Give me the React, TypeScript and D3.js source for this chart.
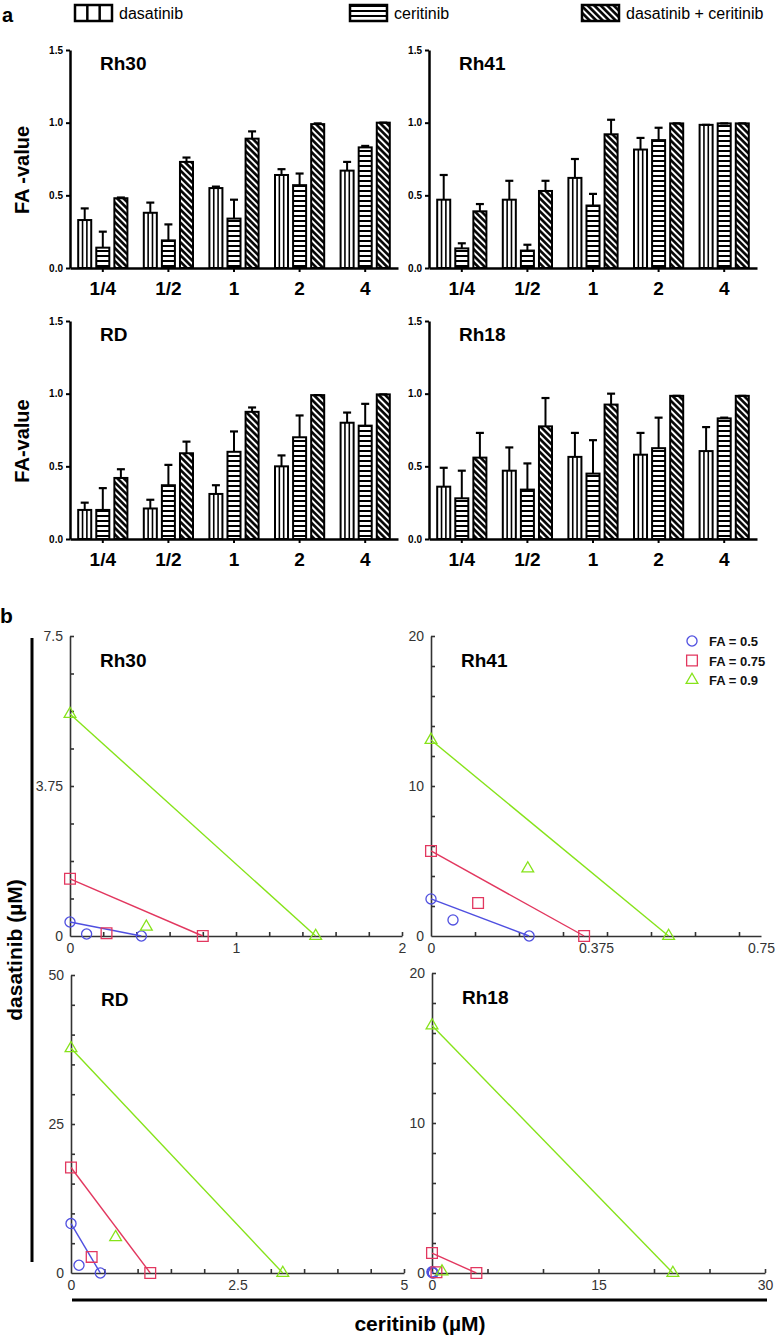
import { useEffect, useRef } from "react";
import * as d3 from "d3";

const FONT = "'Liberation Sans', Arial, Helvetica, sans-serif";

// ---- panel a: FA values (mean) and SD per dose ----
const doses = ["1/4", "1/2", "1", "2", "4"];
const treatments = ["dasatinib", "ceritinib", "dasatinib + ceritinib"];

const rh30Dasatinib = [0.33, 0.38, 0.55, 0.64, 0.67];
const rh30DasatinibSd = [0.08, 0.07, 0.01, 0.04, 0.06];
const rh30Ceritinib = [0.14, 0.19, 0.34, 0.57, 0.83];
const rh30CeritinibSd = [0.11, 0.11, 0.13, 0.08, 0.01];
const rh30Combo = [0.48, 0.73, 0.89, 0.99, 1.0];
const rh30ComboSd = [0.005, 0.03, 0.05, 0.005, 0.0];

const rh41Dasatinib = [0.47, 0.47, 0.62, 0.815, 0.985];
const rh41DasatinibSd = [0.17, 0.13, 0.13, 0.08, 0.0];
const rh41Ceritinib = [0.135, 0.12, 0.43, 0.88, 0.995];
const rh41CeritinibSd = [0.035, 0.04, 0.08, 0.085, 0.0];
const rh41Combo = [0.39, 0.53, 0.92, 0.995, 0.995];
const rh41ComboSd = [0.05, 0.07, 0.1, 0.0, 0.0];

const rdDasatinib = [0.2, 0.21, 0.31, 0.5, 0.8];
const rdDasatinibSd = [0.05, 0.06, 0.06, 0.075, 0.07];
const rdCeritinib = [0.2, 0.37, 0.6, 0.7, 0.78];
const rdCeritinibSd = [0.15, 0.14, 0.14, 0.15, 0.15];
const rdCombo = [0.42, 0.59, 0.875, 0.99, 0.995];
const rdComboSd = [0.06, 0.08, 0.03, 0.0, 0.0];

const rh18Dasatinib = [0.36, 0.47, 0.565, 0.58, 0.605];
const rh18DasatinibSd = [0.13, 0.16, 0.165, 0.15, 0.165];
const rh18Ceritinib = [0.28, 0.34, 0.45, 0.625, 0.83];
const rh18CeritinibSd = [0.19, 0.18, 0.23, 0.21, 0.005];
const rh18Combo = [0.56, 0.775, 0.925, 0.985, 0.985];
const rh18ComboSd = [0.17, 0.195, 0.075, 0.0, 0.0];

const faTicks = [0, 0.5, 1.0, 1.5];

// ---- panel b: isobolograms ----
const faLevels = ["FA = 0.5", "FA = 0.75", "FA = 0.9"];
const faColors = ["#4f4fe0", "#e2375f", "#86e31a"];

// dose of each drug alone (line ends) and the combination point [ceritinib, dasatinib]
const rh30IsoCeritinib = [0.43, 0.8, 1.48];
const rh30IsoDasatinib = [0.35, 1.43, 5.55];
const rh30ComboPts = [[0.1, 0.05], [0.22, 0.07], [0.46, 0.23]];

const rh41IsoCeritinib = [0.223, 0.348, 0.54];
const rh41IsoDasatinib = [2.47, 5.67, 13.07];
const rh41ComboPts = [[0.05, 1.07], [0.107, 2.2], [0.22, 4.5]];

const rdIsoCeritinib = [0.44, 1.19, 3.18];
const rdIsoDasatinib = [8.3, 17.7, 37.7];
const rdComboPts = [[0.12, 1.3], [0.31, 2.7], [0.67, 6.0]];

const rh18IsoCeritinib = [0.12, 4.0, 21.7];
const rh18IsoDasatinib = [0.08, 1.33, 16.5];
const rh18ComboPts = [[0.03, 0.02], [0.4, 0.05], [0.9, 0.1]];

const rh30XLabels = [0, 1, 2];
const rh30YLabels = [0, 3.75, 7.5];
const rh41XLabels = [0, 0.375, 0.75];
const rh41YLabels = [0, 10, 20];
const rdXLabels = [0, 2.5, 5];
const rdYLabels = [0, 25, 50];
const rh18XLabels = [0, 15, 30];
const rh18YLabels = [0, 10, 20];

type Sel = d3.Selection<SVGSVGElement, unknown, null, undefined>;

const drawBars = (svg: Sel, p: any) => {
  const x = d3.scaleBand<string>().domain(doses).range([p.left, p.right]).paddingInner(0.25).paddingOuter(0.125);
  const xi = d3.scaleBand<string>().domain(treatments).range([0, x.bandwidth()]).paddingInner(0.28);
  const y = d3.scaleLinear().domain([0, 1.5]).range([p.bottom, p.top]);
  const g = svg.append("g");
  const bw = xi.bandwidth();

  treatments.forEach((t, j) => {
    const means: number[] = p.means[j];
    const sds: number[] = p.sds[j];
    const gg = g.append("g");
    const bx = (i: number) => (x(doses[i]) as number) + (xi(t) as number);

    gg.selectAll("rect").data(means).join("rect")
      .attr("x", (d, i) => bx(i))
      .attr("y", (d) => y(d))
      .attr("width", bw)
      .attr("height", (d) => y(0) - y(d))
      .attr("fill", j === 0 ? "#fff" : j === 1 ? "url(#hstripe)" : "url(#dstripe)")
      .attr("stroke", "#000")
      .attr("stroke-width", 2);

    if (j === 0) {
      [1, 2].forEach((k) => {
        gg.selectAll(`line.v${k}`).data(means).join("line")
          .attr("class", `v${k}`)
          .attr("x1", (d, i) => bx(i) + (bw * k) / 3)
          .attr("x2", (d, i) => bx(i) + (bw * k) / 3)
          .attr("y1", (d) => y(d))
          .attr("y2", y(0))
          .attr("stroke", "#000")
          .attr("stroke-width", 1.6);
      });
    }

    // error bars, upward only
    gg.selectAll("line.err").data(means).join("line")
      .attr("class", "err")
      .attr("x1", (d, i) => bx(i) + bw / 2)
      .attr("x2", (d, i) => bx(i) + bw / 2)
      .attr("y1", (d) => y(d))
      .attr("y2", (d, i) => y(d + sds[i]))
      .attr("stroke", "#000")
      .attr("stroke-width", 2);
    gg.selectAll("line.cap").data(means).join("line")
      .attr("class", "cap")
      .attr("x1", (d, i) => bx(i) + bw / 2 - 4)
      .attr("x2", (d, i) => bx(i) + bw / 2 + 4)
      .attr("y1", (d, i) => y(d + sds[i]))
      .attr("y2", (d, i) => y(d + sds[i]))
      .attr("stroke", "#000")
      .attr("stroke-width", 2.2);
  });

  const ya = g.append("g")
    .attr("transform", `translate(${p.left},0)`)
    .call(d3.axisLeft(y).tickValues(faTicks).tickFormat(d3.format(".1f")).tickSize(4).tickSizeOuter(0).tickPadding(3));
  ya.select(".domain").attr("stroke-width", 2.5);
  ya.selectAll(".tick line").attr("stroke-width", 2);
  ya.selectAll("text").attr("font-family", FONT).attr("font-weight", "bold").attr("font-size", 10);

  const xa = g.append("g")
    .attr("transform", `translate(0,${p.bottom})`)
    .call(d3.axisBottom(x).tickSize(4).tickSizeOuter(0).tickPadding(10));
  xa.select(".domain").attr("stroke-width", 2.5);
  xa.selectAll(".tick line").attr("stroke-width", 2);
  xa.selectAll("text").attr("font-family", FONT).attr("font-weight", "bold").attr("font-size", 19);

  g.append("text").attr("x", p.left + 30).attr("y", p.top + 20)
    .attr("font-family", FONT).attr("font-weight", "bold").attr("font-size", 19).text(p.name);

  if (p.ylabel) {
    const cy = (p.top + p.bottom) / 2 + 11;
    g.append("text").attr("transform", `translate(29,${cy}) rotate(-90)`)
      .attr("text-anchor", "middle").attr("font-family", FONT).attr("font-weight", "bold").attr("font-size", 20)
      .text(p.ylabel);
  }
};

const drawIso = (svg: Sel, p: any) => {
  const x = d3.scaleLinear().domain([0, p.xMax]).range([p.left, p.right]);
  const y = d3.scaleLinear().domain([0, p.yMax]).range([p.bottom, p.top]);
  const g = svg.append("g");
  const axisColor = "#333";

  const ya = g.append("g").attr("transform", `translate(${p.left},0)`)
    .call(d3.axisLeft(y).tickValues(p.yMinor).tickSize(-4).tickSizeOuter(0).tickFormat(() => ""));
  ya.selectAll("path,line").attr("stroke", axisColor).attr("stroke-width", 1.6);
  const yl = g.append("g").attr("transform", `translate(${p.left},0)`)
    .call(d3.axisLeft(y).tickValues(p.yLabels).tickSize(0).tickPadding(7).tickFormat((d: any) => String(d)));
  yl.select(".domain").remove();
  yl.selectAll("text").attr("font-family", FONT).attr("font-size", 14).attr("fill", "#333");

  const xa = g.append("g").attr("transform", `translate(0,${p.bottom})`)
    .call(d3.axisBottom(x).tickValues(p.xMinor).tickSize(-4).tickSizeOuter(0).tickFormat(() => ""));
  xa.selectAll("path,line").attr("stroke", axisColor).attr("stroke-width", 1.6);
  const xl = g.append("g").attr("transform", `translate(0,${p.bottom})`)
    .call(d3.axisBottom(x).tickValues(p.xLabels).tickSize(0).tickPadding(7).tickFormat((d: any) => String(d)));
  xl.select(".domain").remove();
  xl.selectAll("text").attr("font-family", FONT).attr("font-size", 14).attr("fill", "#333");

  g.append("text").attr("x", p.left + 30).attr("y", p.top + 31)
    .attr("font-family", FONT).attr("font-weight", "bold").attr("font-size", 19).text(p.name);

  const line = d3.line<number[]>().x((d) => x(d[0])).y((d) => y(d[1]));
  const symbols = [d3.symbolCircle, d3.symbolSquare, d3.symbolTriangle];
  const sizes = [80, 115, 60];

  faLevels.forEach((fa, k) => {
    const c = faColors[k];
    const pts = [[0, p.dasatinib[k]], [p.ceritinib[k], 0]];
    g.append("path").attr("d", line(pts) as string).attr("fill", "none").attr("stroke", c).attr("stroke-width", 1.4);
    const all = [...pts, p.combo[k]];
    g.selectAll(`path.m${k}`).data(all).join("path")
      .attr("class", `m${k}`)
      .attr("transform", (d) => `translate(${x(d[0])},${y(d[1])})`)
      .attr("d", d3.symbol().type(symbols[k]).size(sizes[k])() as string)
      .attr("fill", "none").attr("stroke", c).attr("stroke-width", 1.3);
  });
};

const App = () => {
  const ref = useRef<SVGSVGElement>(null);

  useEffect(() => {
    const svg = d3.select(ref.current as SVGSVGElement);
    svg.selectAll("*").remove();

    const defs = svg.append("defs");
    const hp = defs.append("pattern").attr("id", "hstripe").attr("patternUnits", "userSpaceOnUse")
      .attr("width", 10).attr("height", 5);
    hp.append("rect").attr("width", 10).attr("height", 5).attr("fill", "#fff");
    hp.append("rect").attr("y", 0).attr("width", 10).attr("height", 2).attr("fill", "#000");
    const dp = defs.append("pattern").attr("id", "dstripe").attr("patternUnits", "userSpaceOnUse")
      .attr("width", 4.6).attr("height", 4.6).attr("patternTransform", "rotate(-45)");
    dp.append("rect").attr("width", 4.6).attr("height", 4.6).attr("fill", "#fff");
    dp.append("rect").attr("x", 1).attr("y", 0).attr("width", 2.6).attr("height", 4.6).attr("fill", "#000");

    // ---- panel a ----
    svg.append("text").attr("x", 2).attr("y", 22).attr("font-family", FONT).attr("font-weight", "bold")
      .attr("font-size", 20).text("a");

    const legendX = d3.scalePoint<string>().domain(treatments).range([75, 582]);
    legendX.domain().forEach((t, j) => {
      const lx = j === 1 ? 350 : (legendX(t) as number);
      svg.append("rect").attr("x", lx).attr("y", 5).attr("width", 37).attr("height", 16)
        .attr("fill", j === 0 ? "#fff" : j === 1 ? "url(#hstripe)" : "url(#dstripe)")
        .attr("stroke", "#000").attr("stroke-width", 2.5);
      if (j === 0) {
        [1, 2].forEach((k) => {
          svg.append("line").attr("x1", lx + (37 * k) / 3).attr("x2", lx + (37 * k) / 3)
            .attr("y1", 5).attr("y2", 21).attr("stroke", "#000").attr("stroke-width", 2.5);
        });
      }
      svg.append("text").attr("x", lx + 44).attr("y", 19).attr("font-family", FONT)
        .attr("font-size", 16).text(t);
    });

    const barPanels = [
      { name: "Rh30", left: 70, right: 398, top: 50, bottom: 268, ylabel: "FA -value",
        means: [rh30Dasatinib, rh30Ceritinib, rh30Combo], sds: [rh30DasatinibSd, rh30CeritinibSd, rh30ComboSd] },
      { name: "Rh41", left: 429, right: 757, top: 50, bottom: 268, ylabel: "",
        means: [rh41Dasatinib, rh41Ceritinib, rh41Combo], sds: [rh41DasatinibSd, rh41CeritinibSd, rh41ComboSd] },
      { name: "RD", left: 70, right: 398, top: 321, bottom: 539, ylabel: "FA-value",
        means: [rdDasatinib, rdCeritinib, rdCombo], sds: [rdDasatinibSd, rdCeritinibSd, rdComboSd] },
      { name: "Rh18", left: 429, right: 757, top: 321, bottom: 539, ylabel: "",
        means: [rh18Dasatinib, rh18Ceritinib, rh18Combo], sds: [rh18DasatinibSd, rh18CeritinibSd, rh18ComboSd] },
    ];
    barPanels.forEach((p) => drawBars(svg as Sel, p));

    // ---- panel b ----
    svg.append("text").attr("x", 0).attr("y", 623).attr("font-family", FONT).attr("font-weight", "bold")
      .attr("font-size", 21).text("b");

    const isoPanels = [
      { name: "Rh30", left: 70, right: 402, top: 636, bottom: 936, xMax: 2, yMax: 7.5,
        xMinor: d3.range(0.2, 2.01, 0.2), yMinor: d3.range(0.9375, 7.6, 0.9375),
        xLabels: rh30XLabels, yLabels: rh30YLabels,
        ceritinib: rh30IsoCeritinib, dasatinib: rh30IsoDasatinib, combo: rh30ComboPts },
      { name: "Rh41", left: 431, right: 761, top: 636, bottom: 936, xMax: 0.75, yMax: 20,
        xMinor: d3.range(0.1, 0.75, 0.1), yMinor: d3.range(2, 20.1, 2),
        xLabels: rh41XLabels, yLabels: rh41YLabels,
        ceritinib: rh41IsoCeritinib, dasatinib: rh41IsoDasatinib, combo: rh41ComboPts },
      { name: "RD", left: 71, right: 404, top: 975, bottom: 1273, xMax: 5, yMax: 50,
        xMinor: d3.range(0.5, 5.01, 0.5), yMinor: d3.range(5, 50.1, 5),
        xLabels: rdXLabels, yLabels: rdYLabels,
        ceritinib: rdIsoCeritinib, dasatinib: rdIsoDasatinib, combo: rdComboPts },
      { name: "Rh18", left: 432, right: 765, top: 973, bottom: 1273, xMax: 30, yMax: 20,
        xMinor: d3.range(5, 30.1, 5), yMinor: d3.range(2, 20.1, 2),
        xLabels: rh18XLabels, yLabels: rh18YLabels,
        ceritinib: rh18IsoCeritinib, dasatinib: rh18IsoDasatinib, combo: rh18ComboPts },
    ];
    isoPanels.forEach((p) => drawIso(svg as Sel, p));

    // legend for FA levels
    const symbols = [d3.symbolCircle, d3.symbolSquare, d3.symbolTriangle];
    const sizes = [80, 115, 60];
    const ly = d3.scalePoint<string>().domain(faLevels).range([641, 680]);
    faLevels.forEach((fa, k) => {
      const yy = ly(fa) as number;
      svg.append("path").attr("transform", `translate(692,${yy})`)
        .attr("d", d3.symbol().type(symbols[k]).size(sizes[k])() as string)
        .attr("fill", "none").attr("stroke", faColors[k]).attr("stroke-width", 1.3);
      svg.append("text").attr("x", 709).attr("y", yy + 5).attr("font-family", FONT).attr("font-weight", "bold")
        .attr("font-size", 13).attr("fill", "#111").text(fa);
    });

    // common axis titles
    svg.append("line").attr("x1", 32).attr("x2", 32).attr("y1", 638).attr("y2", 1262)
      .attr("stroke", "#000").attr("stroke-width", 3);
    svg.append("text").attr("transform", "translate(22,950) rotate(-90)").attr("text-anchor", "middle")
      .attr("font-family", FONT).attr("font-weight", "bold").attr("font-size", 21).text("dasatinib (µM)");
    svg.append("line").attr("x1", 72).attr("x2", 767).attr("y1", 1300).attr("y2", 1300)
      .attr("stroke", "#000").attr("stroke-width", 3);
    svg.append("text").attr("x", 420).attr("y", 1331).attr("text-anchor", "middle")
      .attr("font-family", FONT).attr("font-weight", "bold").attr("font-size", 21).text("ceritinib (µM)");
  }, []);

  return (
    <svg ref={ref} width={777} height={1339} style={{ position: "absolute", left: 0, top: 0, background: "#fff" }} />
  );
};

export default App;
